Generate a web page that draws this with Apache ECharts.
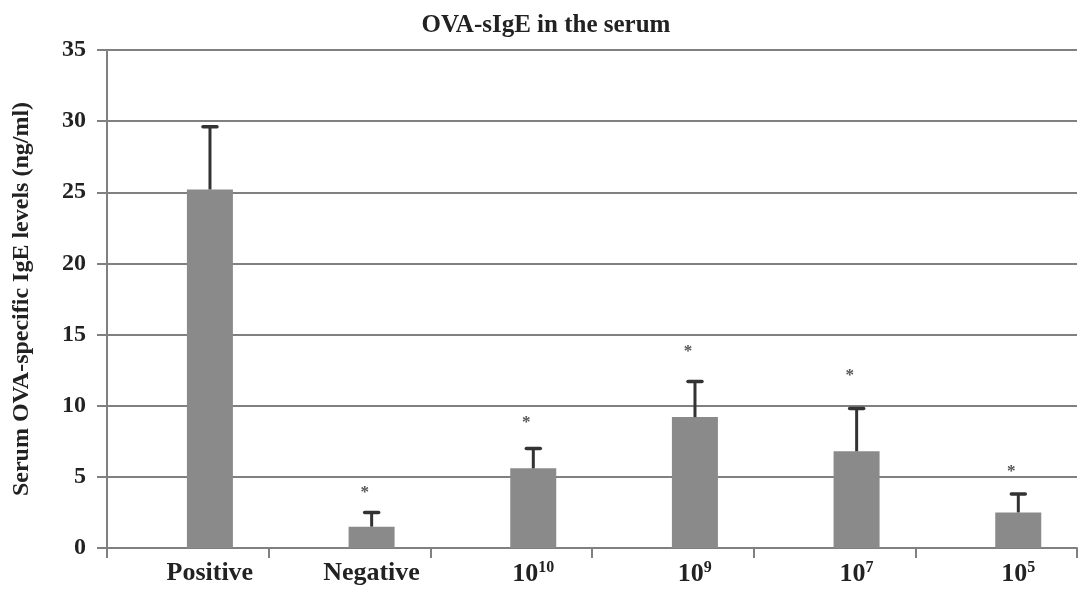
<!DOCTYPE html>
<html>
<head>
<meta charset="utf-8">
<script src="https://cdn.jsdelivr.net/npm/echarts@6/dist/echarts.min.js"></script>
<style>html,body{margin:0;padding:0;background:#fff}#c{width:1087px;height:600px}</style>
</head>
<body>
<div id="c"></div>
<script>
const categories = ['Positive', 'Negative', '10^10', '10^9', '10^7', '10^5'];
const means = [25.2, 1.5, 5.6, 9.2, 6.8, 2.5];
const errors = [4.4, 1.0, 1.4, 2.5, 3.0, 1.3];
const starPos = [null, 3.9, 8.8, 13.8, 12.1, 5.4];
const yTicks = [0, 5, 10, 15, 20, 25, 30, 35];

const chart = echarts.init(document.getElementById('c'));
const serif = '"Liberation Serif", "DejaVu Serif", serif';
const BAR_SHIFT = 0.137; // fraction of category band

function catLabel(v) {
  if (v.indexOf('^') >= 0) {
    const p = v.split('^');
    return '{b|' + p[0] + '}{sup|' + p[1] + '}';
  }
  return '{b|' + v + '}';
}

chart.setOption({
  animation: false,
  backgroundColor: '#fff',
  title: {
    text: 'OVA-sIgE in the serum',
    left: 541, top: 8, textAlign: 'center',
    textStyle: { fontFamily: serif, fontWeight: 'bold', fontSize: 25, color: '#222' }
  },
  grid: { left: 107, right: 10, top: 50, bottom: 52 },
  xAxis: {
    type: 'category',
    data: categories,
    axisLine: { lineStyle: { color: '#808080', width: 2 } },
    axisTick: { show: true, length: 10, lineStyle: { color: '#808080', width: 2 } },
    axisLabel: {
      margin: 12,
      padding: [0, 0, 0, 44],
      formatter: catLabel,
      rich: {
        b: { fontFamily: serif, fontWeight: 'bold', fontSize: 26, color: '#222' },
        sup: { fontFamily: serif, fontWeight: 'bold', fontSize: 16, color: '#222', verticalAlign: 'top', padding: [0, 0, 12, 0] }
      }
    }
  },
  yAxis: {
    type: 'value',
    min: yTicks[0], max: yTicks[yTicks.length - 1], interval: 5,
    name: 'Serum OVA-specific IgE levels (ng/ml)',
    nameLocation: 'middle', nameGap: 73, nameRotate: 90,
    nameTextStyle: { fontFamily: serif, fontWeight: 'bold', fontSize: 24, color: '#222' },
    axisLine: { show: true, lineStyle: { color: '#808080', width: 2 } },
    axisTick: { show: true, length: 10, lineStyle: { color: '#808080', width: 2 } },
    axisLabel: { margin: 21, fontFamily: serif, fontWeight: 'bold', fontSize: 24, color: '#222' },
    splitLine: { lineStyle: { color: '#808080', width: 2 } }
  },
  series: [
    {
      type: 'bar', name: 'ghost', data: categories.map(() => '-'),
      barWidth: 46, barGap: '-4%', silent: true, itemStyle: { color: 'transparent' }
    },
    {
      type: 'bar', name: 'mean', data: means,
      barWidth: 46, barGap: '-4%',
      itemStyle: { color: '#8a8a8a' }
    },
    {
      type: 'custom', name: 'err',
      data: means.map((m, i) => [i, m, errors[i], starPos[i]]),
      encode: { x: 0, y: 1 },
      z: 5,
      renderItem: function (params, api) {
        const i = api.value(0), m = api.value(1), e = api.value(2);
        const band = api.size([1, 0])[0];
        const base = api.coord([i, m]);
        const top = api.coord([i, m + e]);
        const x = base[0] + band * BAR_SHIFT;
        const children = [
          { type: 'line', shape: { x1: x, y1: base[1], x2: x, y2: top[1] }, style: { stroke: '#333', lineWidth: 3 } },
          { type: 'line', shape: { x1: x - 7, y1: top[1], x2: x + 7, y2: top[1] }, style: { stroke: '#333', lineWidth: 3.5, lineCap: 'round' } }
        ];
        const s = starPos[i];
        if (s != null) {
          const sp = api.coord([i, s]);
          children.push({ type: 'text', x: x - 7, y: sp[1],
            style: { text: '*', fill: '#555', font: 'bold 17px ' + serif, align: 'center', verticalAlign: 'middle' } });
        }
        return { type: 'group', children: children };
      }
    }
  ]
});
</script>
</body>
</html>
